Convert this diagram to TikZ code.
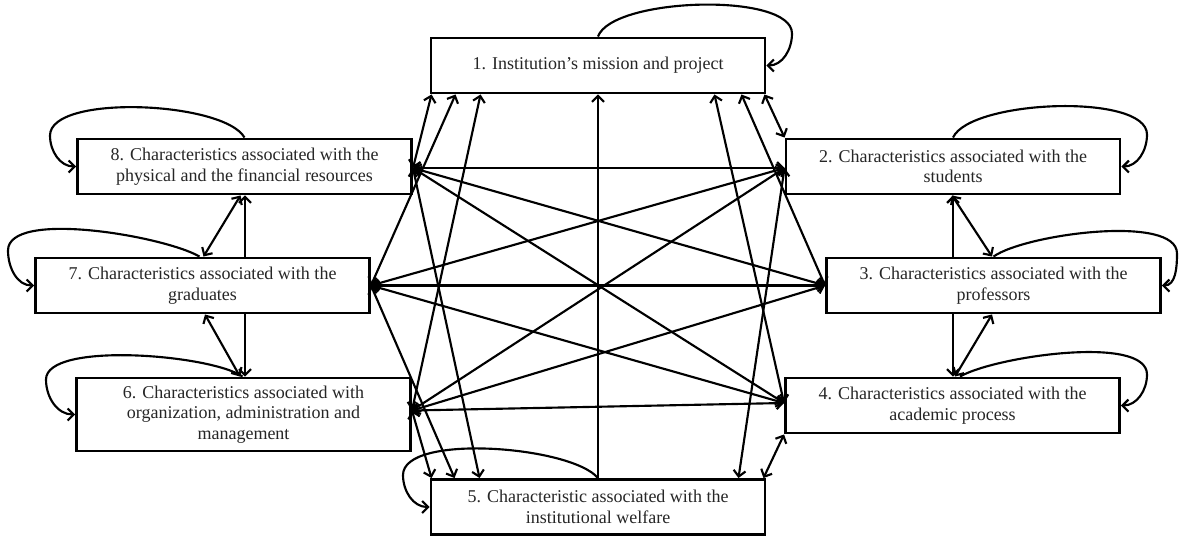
\documentclass[tikz,border=0pt]{standalone}
\usepackage{fontspec}
\setmainfont{Liberation Serif}
\usetikzlibrary{arrows.meta,calc}
\begin{document}
\begin{tikzpicture}[x=0.75pt,y=0.75pt,
  >={Straight Barb[length=4.5pt,width=9pt]},
  box/.style={draw=black, line width=2.2pt, fill=white, minimum width=250.5pt,
    minimum height=41.25pt, inner sep=0pt, align=center,
    font=\fontsize{13.5}{15.4}\selectfont, text=black!85},
  link/.style={line width=1.6pt},
  selfloop/.style={line width=1.6pt,->}
]
\useasboundingbox (0,0) rectangle (1184,-536);
% boxes
\node[box] (n1) at (598,-65.5) {1. Institution's mission and project};
\node[box] (n2) at (953,-166.5) {2. Characteristics associated with the\\students};
\node[box] (n3) at (993.5,-285.5) {3. Characteristics associated with the\\professors};
\node[box] (n4) at (952.5,-405.5) {4. Characteristics associated with the\\academic process};
\node[box] (n5) at (598,-507) {5. Characteristic associated with the\\institutional welfare};
\node[box,minimum height=54.75pt] (n6) at (243.5,-414.5) {6. Characteristics associated with\\organization, administration and\\management};
\node[box] (n7) at (202.5,-285.5) {7. Characteristics associated with the\\graduates};
\node[box] (n8) at (244.5,-166.5) {8. Characteristics associated with the\\physical and the financial resources};
% hubs
\coordinate (h8) at ($(n8.east)+(0,-1.5)$);
\coordinate (h2) at ($(n2.west)+(0,-1.5)$);
\coordinate (h7) at (n7.east);
\coordinate (h3) at (n3.west);
\coordinate (h6) at ($(n6.east)+(0,4)$);
\coordinate (h4) at ($(n4.west)+(0,2.5)$);
% cross links
\draw[link,<->] (h8) -- (h2);
\draw[link,<->] (h8) -- (h3);
\draw[link,<->] (h8) -- (h4);
\draw[link,<->] (h7) -- (h2);
\draw[link,<->] (h7) -- (h3);
\draw[link,<->] (h7) -- (h4);
\draw[link,<->] (h6) -- (h2);
\draw[link,<->] (h6) -- (h3);
\draw[link,<->] (h6) -- (h4);
% links to box 1
\draw[link,<->] ($(n1.south west)+(2,0)$) -- (h8);
\draw[link,<->] ($(n1.south west)+(26,0)$) -- (h7);
\draw[link,<->] ($(n1.south west)+(51,0)$) -- (h6);
\draw[link,<->] ($(n1.south east)+(-52,0)$) -- (h4);
\draw[link,<->] ($(n1.south east)+(-25,0)$) -- (h3);
\draw[link,<->] ($(n1.south east)+(-2,0)$) -- (n2.north west);
\draw[link,->] (n5.north) -- (n1.south);
% links to box 5
\draw[link,<->] ($(n5.north west)+(2,0)$) -- (h6);
\draw[link,<->] ($(n5.north west)+(25,0)$) -- (h7);
\draw[link,<->] ($(n5.north west)+(50,0)$) -- (h8);
\draw[link,<->] ($(n5.north east)+(-28,0)$) -- (h2);
\draw[link,<->] ($(n5.north east)+(-3,0)$) -- (n4.south west);
% side links left
\draw[link,<->] ($(n7.north)+(1,0)$) -- ($(n8.south)+(-4,0)$);
\draw[link,->] ($(n7.north)+(42.5,0)$) -- ($(n8.south)+(0.5,0)$);
\draw[link,->] ($(n7.south)+(42.5,0)$) -- ($(n6.north)+(1.5,0)$);
\draw[link,<->] ($(n7.south)+(2.5,0)$) -- ($(n6.north)+(-3.5,0)$);
% side links right
\draw[link,<->] ($(n2.south)+(-1,0)$) -- ($(n3.north)+(-1.5,0)$);
\draw[link,->] ($(n3.north)+(-40.5,0)$) -- (n2.south);
\draw[link,->] ($(n3.south)+(-40.5,0)$) -- ($(n4.north)+(0.5,0)$);
\draw[link,<->] ($(n3.south)+(-1.5,0)$) -- ($(n4.north)+(2.5,0)$);
% self loops
\draw[selfloop] (n1.north) to[out=70,in=90,looseness=0.55] ++(194,3) to[out=-90,in=0] (n1.east);
\draw[selfloop] (n8.north) to[out=120,in=90,looseness=0.55] ++(-194.5,2) to[out=-90,in=180] (n8.west);
\draw[selfloop] ($(n7.north)+(-3,0)$) to[out=150,in=90,looseness=0.55] ++(-191.5,6) to[out=-90,in=180] (n7.west);
\draw[selfloop] ($(n6.north)+(-1,0)$) to[out=145,in=90,looseness=0.5] ++(-196.5,-3) to[out=-90,in=180] (n6.west);
\draw[selfloop] (n2.north) to[out=65,in=90,looseness=0.55] ++(194,3) to[out=-90,in=0] (n2.east);
\draw[selfloop] (n3.north) to[out=35,in=90,looseness=0.55] ++(183.5,3) to[out=-90,in=0] (n3.east);
\draw[selfloop] ($(n4.north)+(7.5,0)$) to[out=30,in=90,looseness=0.55] ++(187,2) to[out=-90,in=0] (n4.east);
\draw[selfloop] (n5.north) to[out=130,in=90,looseness=0.55] ++(-195,3) to[out=-90,in=180] (n5.west);
\end{tikzpicture}
\end{document}
